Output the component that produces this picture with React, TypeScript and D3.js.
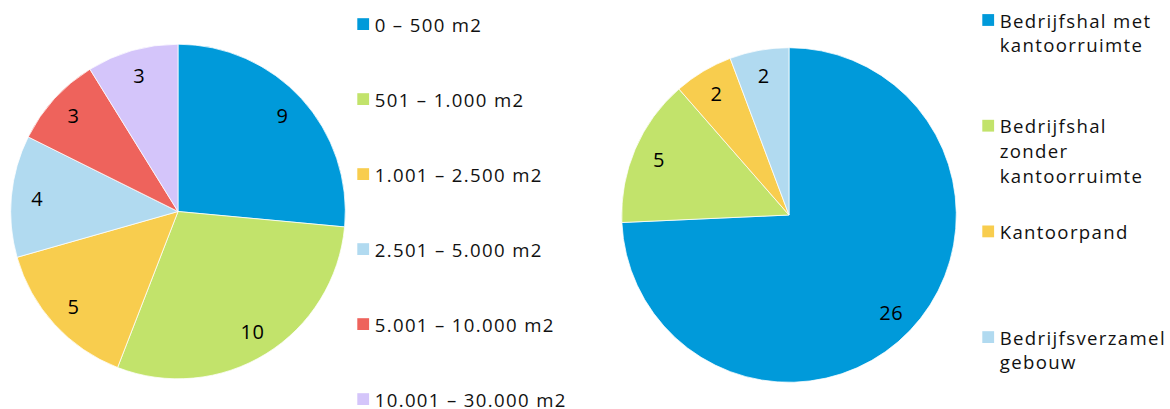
import React from "react";
import * as d3 from "d3";

// Left pie: number of sites by floor area
const sizeCategories = [
  "0 – 500 m2",
  "501 – 1.000 m2",
  "1.001 – 2.500 m2",
  "2.501 – 5.000 m2",
  "5.001 – 10.000 m2",
  "10.001 – 30.000 m2",
];
const sizeValues = [9, 10, 5, 4, 3, 3];
const sizeColors = ["#009ADA", "#C2E36B", "#F8CD4E", "#B1DAF0", "#EE635C", "#D4C5FA"];

// Right pie: number of sites by building type (legend lines split with "\n")
const typeCategories = [
  "Bedrijfshal met\nkantoorruimte",
  "Bedrijfshal\nzonder\nkantoorruimte",
  "Kantoorpand",
  "Bedrijfsverzamel\ngebouw",
];
const typeValues = [26, 5, 2, 2];
const typeColors = ["#009ADA", "#C2E36B", "#F8CD4E", "#B1DAF0"];

const FONT = "'Open Sans', 'Noto Sans', sans-serif";
const TEXT = "#111";

type PieProps = {
  cx: number;
  cy: number;
  r: number;
  values: number[];
  colors: string[];
};

function Pie({ cx, cy, r, values, colors }: PieProps) {
  const pie = d3.pie<number>().sort(null).value((d) => d);
  const arcs = pie(values);
  const arc = d3.arc<d3.PieArcDatum<number>>().innerRadius(0).outerRadius(r);
  const labelArc = d3
    .arc<d3.PieArcDatum<number>>()
    .innerRadius(r * 0.845)
    .outerRadius(r * 0.845);
  return (
    <g transform={`translate(${cx},${cy})`}>
      {arcs.map((a, i) => (
        <path key={i} d={arc(a) ?? ""} fill={colors[i]} stroke="#fff" strokeWidth={0.75} />
      ))}
      {arcs.map((a, i) => {
        const [x, y] = labelArc.centroid(a);
        return (
          <text
            key={`l${i}`}
            x={x}
            y={y}
            dy="0.357em"
            textAnchor="middle"
            fontFamily={FONT}
            fontSize={20}
            letterSpacing={0.6}
            fill="#000"
          >
            {a.data}
          </text>
        );
      })}
    </g>
  );
}

type LegendProps = {
  x: number;
  y0: number;
  step: number;
  labels: string[];
  colors: string[];
  lineHeight: number;
};

function Legend({ x, y0, step, labels, colors, lineHeight }: LegendProps) {
  return (
    <g>
      {labels.map((label, i) => {
        const baseline = y0 + i * step;
        const lines = label.split("\n");
        return (
          <g key={i}>
            <rect x={x} y={baseline - 13.4} width={11.8} height={11.8} fill={colors[i]} />
            <text
              x={x + 17.4}
              y={baseline}
              fontFamily={FONT}
              fontSize={18.6}
              letterSpacing={1.35}
              fill={TEXT}
            >
              {lines.map((ln, j) => (
                <tspan key={j} x={x + 17.4} y={baseline + j * lineHeight}>
                  {ln}
                </tspan>
              ))}
            </text>
          </g>
        );
      })}
    </g>
  );
}

export default function App() {
  return (
    <div style={{ position: "absolute", left: 0, top: 0 }}>
      <svg width={1170} height={409} style={{ display: "block", background: "#fff" }}>
        <Pie cx={178} cy={211.5} r={167.3} values={sizeValues} colors={sizeColors} />
        <Legend
          x={357.3}
          y0={31.6}
          step={75}
          labels={sizeCategories}
          colors={sizeColors}
          lineHeight={25}
        />
        <Pie cx={789} cy={215} r={167.3} values={typeValues} colors={typeColors} />
        <Legend
          x={982.3}
          y0={27.5}
          step={105.7}
          labels={typeCategories}
          colors={typeColors}
          lineHeight={24.8}
        />
      </svg>
    </div>
  );
}
